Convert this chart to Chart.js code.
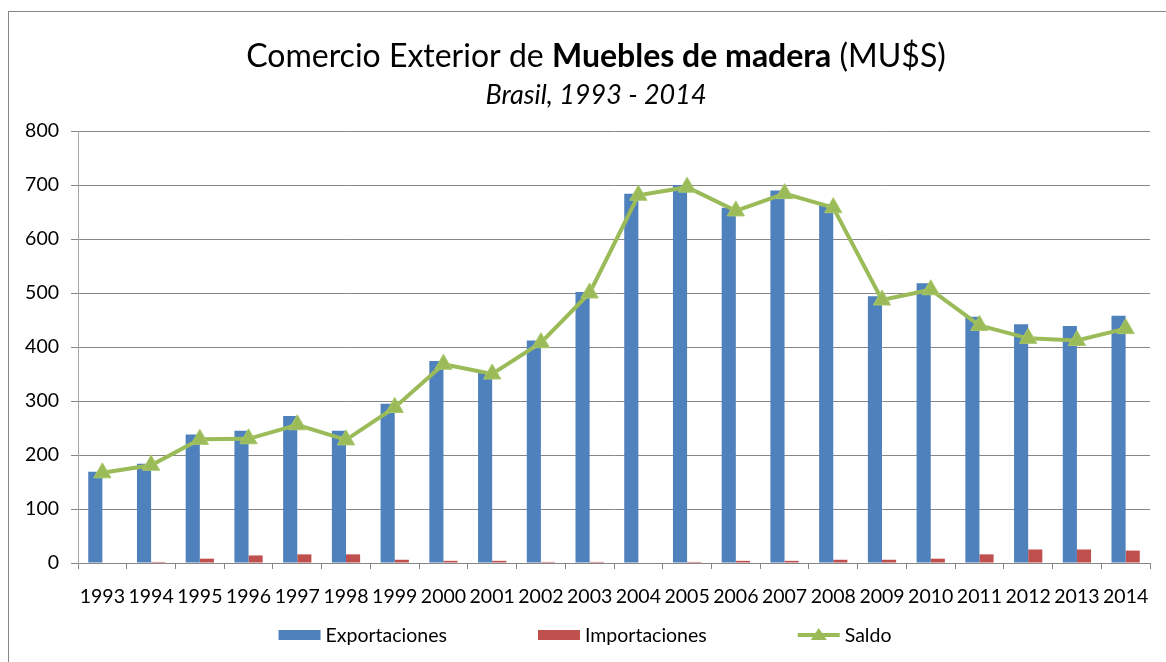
<!DOCTYPE html>
<html>
<head>
<meta charset="utf-8">
<script src="https://cdn.jsdelivr.net/npm/chart.js@4.4.1/dist/chart.umd.min.js"></script>
<style>
  html, body { margin: 0; padding: 0; background: #fff; }
</style>
</head>
<body>
<canvas id="myChart" width="1166" height="662"></canvas>
<script>
// données
const annees = ['1993', '1994', '1995', '1996', '1997', '1998', '1999', '2000', '2001', '2002', '2003',
                '2004', '2005', '2006', '2007', '2008', '2009', '2010', '2011', '2012', '2013', '2014'];
const exportaciones = [169, 184, 238, 245, 272, 245, 295, 374, 352, 412, 502,
                       684, 700, 658, 690, 665, 494, 518, 456, 442, 439, 458];
const importaciones = [0, 2, 8, 14, 16, 16, 6, 4, 4, 2, 2,
                       0, 2, 4, 4, 6, 6, 8, 16, 25, 25, 23];
const saldo = [167, 181, 229, 230, 256, 228, 288, 368, 350, 408, 500,
               681, 696, 652, 684, 658, 487, 506, 440, 416, 412, 434];
const yTicks = [0, 100, 200, 300, 400, 500, 600, 700, 800];

const FONT = 'Lato, "Open Sans", sans-serif';
const AZUL = '#4F81BD';
const ROJO = '#C0504D';
const VERDE = '#9BBB59';

// titre avec une partie en gras + sous-titre + cadre + légende
const titrePlugin = {
    id: 'titre',
    afterDraw(chart) {
        const c = chart.ctx;
        c.save();
        c.strokeStyle = '#868686';
        c.lineWidth = 1;
        c.strokeRect(8.5, 11.5, 1200, 700);

        const parts = [
            { t: 'Comercio Exterior de ', f: '400 32px ' + FONT },
            { t: 'Muebles de madera', f: '700 32px ' + FONT },
            { t: ' (MU$S)', f: '400 32px ' + FONT },
        ];
        let total = 0;
        parts.forEach(p => { c.font = p.f; p.w = c.measureText(p.t).width; total += p.w; });
        let x = 596 - total / 2;
        c.fillStyle = '#000';
        c.textBaseline = 'alphabetic';
        c.textAlign = 'left';
        parts.forEach(p => { c.font = p.f; c.fillText(p.t, x, 67); x += p.w; });

        c.font = 'italic 400 27px ' + FONT;
        c.textAlign = 'center';
        c.fillText('Brasil, 1993 - 2014', 596, 104);

        // légende
        const items = chart.data.datasets.map(ds => ({ label: ds.label, type: ds.type, color: ds.borderColor || ds.backgroundColor }));
        c.font = '400 19.5px ' + FONT;
        const boxW = 42, gap = 91;
        let w = 0;
        items.forEach((it, i) => { it.w = boxW + 5 + c.measureText(it.label).width; w += it.w + (i ? gap : 0); });
        let lx = 585 - w / 2;
        const cy = 635;
        c.textAlign = 'left';
        c.textBaseline = 'middle';
        items.forEach(it => {
            if (it.type === 'line') {
                c.strokeStyle = it.color;
                c.lineWidth = 4;
                c.beginPath();
                c.moveTo(lx, cy);
                c.lineTo(lx + boxW, cy);
                c.stroke();
                c.fillStyle = it.color;
                c.beginPath();
                c.moveTo(lx + boxW / 2, cy - 7);
                c.lineTo(lx + boxW / 2 + 8, cy + 5);
                c.lineTo(lx + boxW / 2 - 8, cy + 5);
                c.closePath();
                c.fill();
            } else {
                c.fillStyle = it.color;
                c.fillRect(lx, cy - 5, boxW, 10);
            }
            c.fillStyle = '#000';
            c.fillText(it.label, lx + boxW + 5, cy + 1);
            lx += it.w + gap;
        });
        c.restore();
    }
};

const ctx = document.getElementById('myChart');

new Chart(ctx, {
    data: {
        labels: annees,
        datasets: [{
            type: 'bar',
            label: 'Exportaciones',
            data: exportaciones,
            backgroundColor: AZUL,
            categoryPercentage: 0.58,
            barPercentage: 1.0,
            order: 2,
        }, {
            type: 'bar',
            label: 'Importaciones',
            data: importaciones,
            backgroundColor: ROJO,
            categoryPercentage: 0.58,
            barPercentage: 1.0,
            order: 2,
        }, {
            type: 'line',
            label: 'Saldo',
            data: saldo,
            borderColor: VERDE,
            backgroundColor: VERDE,
            borderWidth: 4,
            pointStyle: 'triangle',
            pointRadius: 10,
            pointBorderWidth: 1,
            pointBorderColor: '#A9C86A',
            tension: 0,
            order: 1,
        }]
    },
    options: {
        responsive: false,
        animation: false,
        layout: {
            padding: { top: 131, left: 8, right: 16, bottom: 47 },
        },
        plugins: {
            title: { display: false },
            tooltip: { enabled: false },
            legend: { display: false },
        },
        scales: {
            x: {
                offset: true,
                grid: {
                    offset: true,
                    drawOnChartArea: false,
                    drawTicks: true,
                    tickLength: 6,
                    color: '#868686',
                },
                border: { color: '#868686' },
                ticks: {
                    color: '#000',
                    font: { family: FONT, size: 19.5 },
                    padding: 16,
                    maxRotation: 0,
                    autoSkip: false,
                },
                afterFit(scale) { scale.height = 52; },
            },
            y: {
                min: 0,
                max: 800,
                afterBuildTicks(scale) { scale.ticks = yTicks.map(v => ({ value: v })); },
                grid: {
                    color: '#868686',
                    tickLength: 7,
                },
                border: { color: '#A6A6A6' },
                ticks: {
                    color: '#000',
                    font: { family: FONT, size: 19.5 },
                    padding: 12,
                },
                afterFit(scale) { scale.width = 70; },
            },
        },
    },
    plugins: [titrePlugin],
});
</script>
</body>
</html>
